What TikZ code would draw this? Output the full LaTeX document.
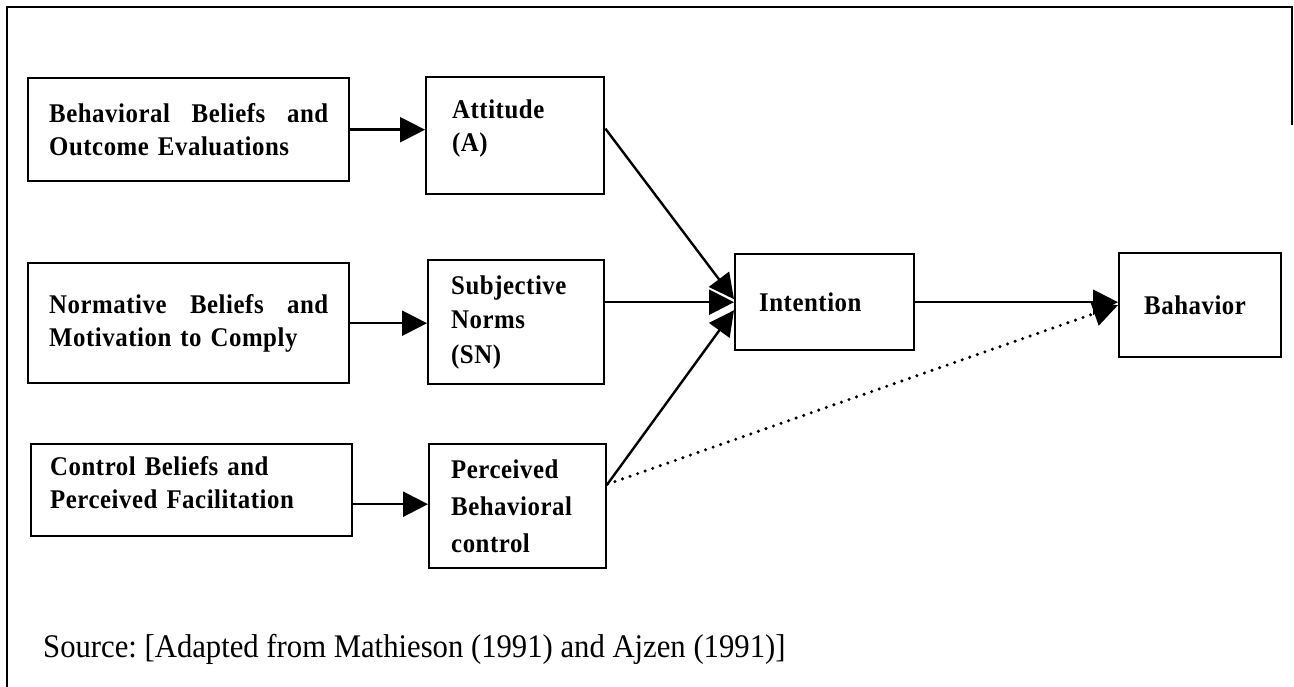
\documentclass[tikz,border=0pt]{standalone}
\usepackage{fontspec}
\setmainfont{Liberation Serif}
\newfontfamily\boxfont[LetterSpace=2,FakeStretch=0.92]{Liberation Serif}
\newfontfamily\notefont[FakeStretch=0.93]{Liberation Serif}
\usetikzlibrary{arrows.meta,calc}
\frenchspacing
\begin{document}
\begin{tikzpicture}[x=1pt,y=-1pt,
  box/.style={draw, line width=2.4pt, anchor=north west, align=left,
    inner ysep=0pt, font=\boxfont\bfseries\fontsize{27}{33}\selectfont},
  link/.style={line width=2.4pt, -{Triangle[length=25pt,width=25pt]}},
  dots/.style={line width=3.4pt, line cap=round, dash pattern=on 0pt off 8pt,
    -{Triangle[length=25pt,width=25pt]}}]
\useasboundingbox (0,0) rectangle (1294,687);

% open frame around the figure
\draw[line width=2.4pt] (7,687) -- (7,7) -- (1292,7) -- (1292,125);

% belief boxes (left column)
\node[box, minimum width=321, minimum height=103, text width=279, inner xsep=21] (bb) at (27,77)
  {\makebox[279pt]{Behavioral\hfill Beliefs\hfill and}\\Outcome Evaluations};
\node[box, minimum width=321, minimum height=120, text width=279, inner xsep=21] (nb) at (27,262)
  {\makebox[279pt]{Normative\hfill Beliefs\hfill and}\\Motivation to Comply};
\node[box, minimum width=321, minimum height=92, text width=283, inner xsep=19] (cb) at (30,443)
  {Control Beliefs and\\Perceived Facilitation\rule[-16pt]{0pt}{0pt}};

% determinants (middle column)
\node[box, minimum width=178, minimum height=117, text width=126, inner xsep=26] (att) at (425,76)
  {Attitude\\(A)\rule[-20pt]{0pt}{0pt}};
\node[box, minimum width=176, minimum height=124, text width=130, inner xsep=23,
  font=\boxfont\bfseries\fontsize{27}{34.5}\selectfont] (sn) at (427,259)
  {Subjective\\Norms\\(SN)};
\node[box, minimum width=177, minimum height=124, text width=133, inner xsep=22,
  font=\boxfont\bfseries\fontsize{27}{37}\selectfont] (pbc) at (428,443)
  {Perceived\\Behavioral\\control};

% intention and behaviour
\node[box, minimum width=179, minimum height=96, text width=131, inner xsep=24] (int) at (734,253)
  {Intention};
\node[box, minimum width=162, minimum height=104, text width=112, inner xsep=25] (bah) at (1118,252)
  {Bahavior};

% connectors
\draw[link] (bb.east) -- (bb.east -| att.west);
\draw[link] (nb.east) -- (nb.east -| sn.west);
\draw[link] ([yshift=-14pt]cb.east) -- ([yshift=-14pt]cb.east -| pbc.west);

\coordinate (attout) at ([yshift=7pt]att.east);
\coordinate (pbcout) at ([yshift=22pt]pbc.east);
\draw[link] (attout) -- ([yshift=3pt]int.west);
\draw[link] (int.west -| sn.east) -- (int.west);
\draw[link] (pbcout) -- ([yshift=-8pt]int.west);
\draw[link] (int.east) -- (int.east -| bah.west);
\draw[dots] (pbcout) -- (bah.west);

% source line
\node[anchor=base west, inner sep=0pt, font=\notefont\fontsize{33}{40}\selectfont] (src) at (43,657)
  {Source: [Adapted from Mathieson (1991) and Ajzen (1991)]};
\end{tikzpicture}
\end{document}
